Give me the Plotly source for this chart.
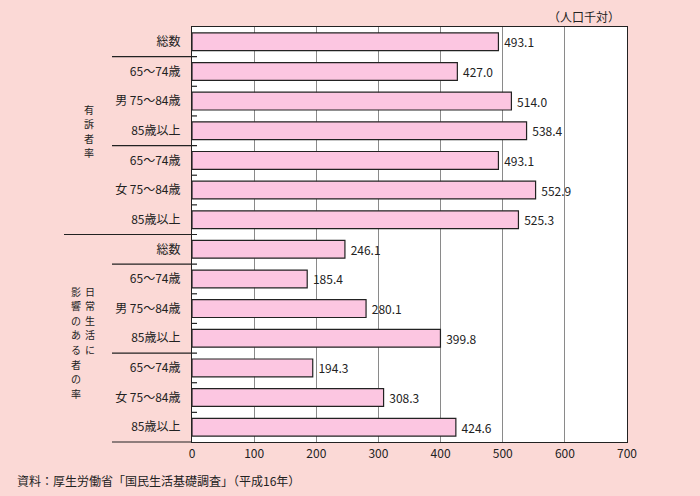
import plotly.graph_objects as go

# 有訴者率 / 日常生活に影響のある者の率 (人口千対)
labels = ['総数', '65～74歳', '男 75～84歳', '85歳以上', '65～74歳', '女 75～84歳', '85歳以上',
          '総数', '65～74歳', '男 75～84歳', '85歳以上', '65～74歳', '女 75～84歳', '85歳以上']
values = [493.1, 427.0, 514.0, 538.4, 493.1, 552.9, 525.3,
          246.1, 185.4, 280.1, 399.8, 194.3, 308.3, 424.6]
x_ticks = [0, 100, 200, 300, 400, 500, 600, 700]

FONT = 'Noto Sans CJK JP'
BG = '#fbd9d6'
INK = '#222222'
n = len(labels)
rows = list(range(n))

W, H = 700, 496
L, R, T, B = 192, 73, 27, 54
pw, ph = W - L - R, H - T - B


def px(xp):
    return (xp - L) / pw


def py(yp):
    return 1 - (yp - T) / ph


fig = go.Figure()
fig.add_trace(go.Bar(
    x=values,
    y=rows,
    orientation='h',
    width=0.6,
    marker=dict(color='#fcc6e1', line=dict(color=INK, width=1.2)),
    text=[f' {v:.1f}' for v in values],
    textposition='outside',
    textfont=dict(family=FONT, size=12, color=INK),
    cliponaxis=False,
    hoverinfo='skip',
))

# row separators: long ones between groups, short ticks elsewhere
shapes = []
for k in range(1, n + 1):
    yb = 1 - k / n
    if k == 7:
        x0 = px(64)
    elif k in (1, 4, 8, 11, 14):
        x0 = px(112)
    else:
        x0 = 0
    x1 = 0 if k == n else px(197)
    shapes.append(dict(type='line', xref='paper', yref='paper', x0=x0, x1=x1,
                       y0=yb, y1=yb, line=dict(color=INK, width=1.2)))

annotations = []


def vertical(text, xc, ytop, step):
    # one annotation per character, stacked top to bottom
    for i, ch in enumerate(text):
        annotations.append(dict(text=ch, xref='paper', yref='paper', x=px(xc), y=py(ytop + i * step),
                                showarrow=False, font=dict(family=FONT, size=10, color=INK),
                                borderpad=0, xanchor='center', yanchor='middle'))


vertical('有訴者率', 89, 109, 14.6)
vertical('日常生活に', 90, 291, 14.6)
vertical('影響のある者の率', 76, 291, 14.6)

annotations += [
    dict(text='（人口千対）', xref='paper', yref='paper', x=px(622), y=py(16),
         showarrow=False, font=dict(family=FONT, size=12, color=INK),
         xanchor='right', yanchor='middle'),
    dict(text='資料：厚生労働省「国民生活基礎調査」（平成16年）', xref='paper', yref='paper',
         x=px(15), y=py(480), showarrow=False, font=dict(family=FONT, size=12, color=INK),
         xanchor='left', yanchor='middle'),
]

fig.update_layout(
    width=W,
    height=H,
    margin=dict(l=L, r=R, t=T, b=B),
    paper_bgcolor=BG,
    plot_bgcolor='white',
    showlegend=False,
    shapes=shapes,
    annotations=annotations,
    xaxis=dict(
        range=[0, 700],
        tickvals=x_ticks,
        showgrid=True,
        gridcolor='#8a8a8a',
        gridwidth=1,
        zeroline=False,
        showline=True,
        linecolor=INK,
        linewidth=1.2,
        mirror=True,
        ticks='',
        tickfont=dict(family=FONT, size=12, color=INK),
    ),
    yaxis=dict(
        range=[n - 0.5, -0.5],
        tickvals=rows,
        ticktext=labels,
        showgrid=False,
        zeroline=False,
        showline=True,
        linecolor=INK,
        linewidth=1.2,
        mirror=True,
        ticks='',
        ticklabelstandoff=8,
        tickfont=dict(family=FONT, size=12, color=INK),
    ),
)

fig.write_html('out.html', config={'displayModeBar': False},
               post_script="document.body.style.margin='0';")
